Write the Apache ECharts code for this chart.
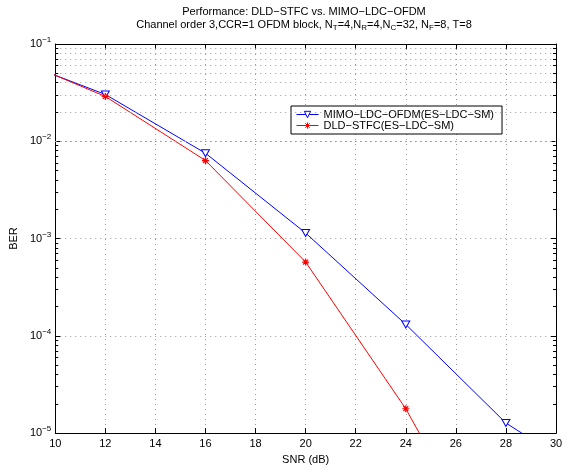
<!DOCTYPE html>
<html>
<head>
<meta charset="utf-8">
<script src="https://cdn.jsdelivr.net/npm/echarts@6/dist/echarts.min.js"></script>
<style>html,body{margin:0;padding:0;background:#fff}#chart{width:566px;height:470px}</style>
</head>
<body>
<div id="chart"></div>
<script>
var FONT = '"Liberation Sans", Arial, Helvetica, sans-serif';

// SNR (dB) of the simulated points; 8 and 32 lie outside the axes, the lines just run off
var snr = [8, 12, 16, 20, 24, 28, 32];
var berMimo = [0.075, 0.0303, 0.00754, 0.00114, 1.31e-4, 1.27e-5, 2.8e-6];
var berDld = [0.0785, 0.0289, 0.00634, 5.73e-4, 1.78e-5, 2.5e-7, null];
var seriesNames = ['MIMO−LDC−OFDM(ES−LDC−SM)', 'DLD−STFC(ES−LDC−SM)'];
var titleLine1 = 'Performance: DLD−STFC vs. MIMO−LDC−OFDM';
var xMin = 10, xMax = 30, xStep = 2;
var yMin = 1e-5, yMax = 1e-1;

var GRID_DOT = {type: [1, 4], color: '#999', width: 1};

function pairs(ys) {
	var out = [];
	for (var i = 0; i < snr.length; i++) {
		if (ys[i] !== null) out.push([snr[i], ys[i]]);
	}
	return out;
}

// minor grid (2..9 in each decade) plus the small ticks on left / right edge
function minorMarks() {
	var out = [];
	for (var d = -5; d < -1; d++) {
		for (var k = 2; k <= 9; k++) {
			var v = k * Math.pow(10, d);
			out.push({yAxis: v, lineStyle: GRID_DOT});
			out.push([{coord: [xMin, v], lineStyle: {type: 'solid', color: '#000', width: 1}}, {coord: [xMin + 0.12, v]}]);
			out.push([{coord: [xMax - 0.12, v], lineStyle: {type: 'solid', color: '#000', width: 1}}, {coord: [xMax, v]}]);
		}
	}
	return out;
}

var chart = echarts.init(document.getElementById('chart'));

var axisBase = {
	axisLine: {show: true, lineStyle: {color: '#000', width: 1}},
	axisTick: {show: true, inside: true, length: 5, lineStyle: {color: '#000'}}
};

var option = {
	animation: false,
	backgroundColor: '#fff',
	graphic: [{
		type: 'text',
		x: 304, y: 5,
		style: {
			text: '{n|' + titleLine1 + '}\n' +
				'{n|Channel order 3,CCR=1 OFDM block, N}{s|T}{n|=4,N}{s|R}{n|=4,N}{s|C}{n|=32, N}{s|F}{n|=8, T=8}',
			align: 'center',
			rich: {
				n: {fontSize: 11, fontFamily: FONT, fill: '#000', lineHeight: 13},
				s: {fontSize: 8, fontFamily: FONT, fill: '#000', padding: [6, 0, 0, 0]}
			}
		}
	}],
	grid: {left: 54, right: 10, top: 44, bottom: 33, containLabel: false},
	legend: {
		data: seriesNames,
		orient: 'vertical',
		left: 291, top: 106,
		backgroundColor: '#fff',
		borderColor: '#000', borderWidth: 1, borderRadius: 0,
		padding: [3, 8, 3, 5],
		itemGap: 0, itemWidth: 22, itemHeight: 8,
		lineStyle: {width: 1},
		itemStyle: {borderWidth: 1},
		textStyle: {fontSize: 11, fontFamily: FONT, color: '#000', lineHeight: 11}
	},
	xAxis: [
		Object.assign({
			type: 'value', min: xMin, max: xMax, interval: xStep, position: 'bottom',
			name: 'SNR (dB)', nameLocation: 'middle', nameGap: 18,
			nameTextStyle: {fontSize: 11, fontFamily: FONT, color: '#000'},
			axisLabel: {fontSize: 11, fontFamily: FONT, color: '#000', margin: 5},
			splitLine: {show: true, lineStyle: GRID_DOT}
		}, axisBase),
		Object.assign({
			type: 'value', min: xMin, max: xMax, interval: xStep, position: 'top',
			axisLabel: {show: false}, splitLine: {show: false}
		}, axisBase)
	],
	yAxis: [
		Object.assign({
			type: 'log', logBase: 10, min: yMin, max: yMax, position: 'left',
			name: 'BER', nameLocation: 'middle', nameGap: 33, nameRotate: 90,
			nameTextStyle: {fontSize: 11, fontFamily: FONT, color: '#000'},
			axisLabel: {
				margin: 4,
				formatter: function (v) {
					var e = Math.round(Math.log10(v));
					return '{b|10}{s|' + (e < 0 ? '−' + (-e) : e) + '}';
				},
				rich: {
					b: {fontSize: 11, fontFamily: FONT, color: '#000'},
					s: {fontSize: 8, fontFamily: FONT, color: '#000', padding: [0, 0, 8, 0]}
				}
			},
			splitLine: {show: true, lineStyle: GRID_DOT}
		}, axisBase),
		Object.assign({
			type: 'log', logBase: 10, min: yMin, max: yMax, position: 'right',
			axisLabel: {show: false}, splitLine: {show: false}
		}, axisBase)
	],
	series: [
		{
			name: seriesNames[0],
			type: 'line',
			data: pairs(berMimo),
			clip: true,
			// hollow down-pointing triangle, thin outline
			symbol: 'path://M0,0L10,0L5,9Z', symbolSize: [8, 7],
			itemStyle: {color: '#fff', borderColor: '#0000ff', borderWidth: 1},
			lineStyle: {color: '#0000ff', width: 1},
			markLine: {
				silent: true, symbol: ['none', 'none'], label: {show: false},
				emphasis: {disabled: true},
				data: minorMarks()
			},
			z: 3
		},
		{
			name: seriesNames[1],
			type: 'line',
			data: pairs(berDld),
			clip: true,
			symbol: 'path://M5,0L5,10M0,5L10,5M1.5,1.5L8.5,8.5M1.5,8.5L8.5,1.5', symbolSize: 7,
			itemStyle: {color: '#ff0000', borderColor: '#ff0000', borderWidth: 1.2},
			lineStyle: {color: '#ff0000', width: 1},
			z: 4
		}
	]
};

chart.setOption(option);
</script>
</body>
</html>
